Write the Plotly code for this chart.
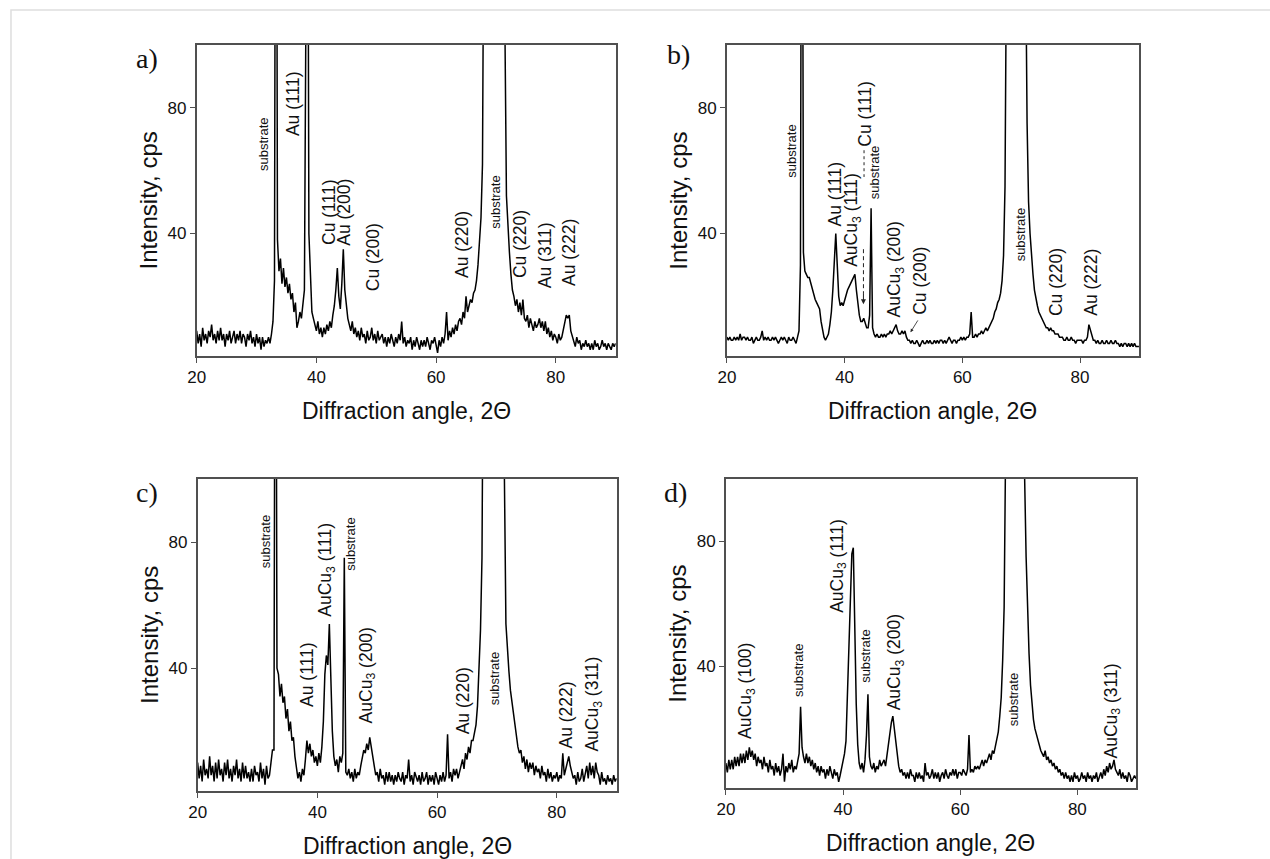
import numpy as np
import plotly.graph_objects as go

# Diffraction angle grid, 2-theta (deg), 0.25 deg step
two_theta = np.linspace(20, 90, 281)

# Measured intensity (cps); each row holds 20.00, 20.25, 20.50, 20.75 ... of one degree
intensity_a = [
    9, 5, 8, 4,  10, 6, 8, 5,  9, 7, 11, 6,  8, 5, 9, 6,  10, 6, 8, 4,      # 20-24
    8, 6, 9, 5,  7, 9, 5, 8,  6, 9, 5, 8,  7, 4, 8, 6,  9, 5, 7, 4,        # 25-29
    8, 5, 7, 3,  7, 4, 6, 5,  7, 5, 8, 12,  25, 260, 38, 28,  32, 24, 29, 23,  # 30-34
    26, 21, 24, 19,  21, 15, 18, 10,  12, 15, 13, 19,  22, 110, 220, 40,  24, 15, 13, 11,  # 35-39
    9, 12, 8, 10,  7, 10, 8, 11,  9, 12, 10, 14,  17, 22, 29, 20,  16, 24, 35, 22,  # 40-44
    17, 13, 11, 9,  12, 8, 10, 7,  9, 6, 10, 7,  8, 5, 9, 6,  7, 10, 6, 8,  # 45-49
    5, 9, 6, 7,  8, 5, 7, 4,  7, 5, 8, 6,  4, 7, 5, 8,  6, 12, 5, 7,       # 50-54
    4, 6, 5, 7,  3, 6, 4, 7,  5, 3, 6, 4,  6, 4, 7, 5,  3, 6, 5, 7,        # 55-59
    5, 2, 6, 4,  7, 5, 8, 15,  6, 9, 7, 10,  8, 11, 9, 12,  13, 11, 15, 13,  # 60-64
    20, 15, 17, 19,  18, 21, 22, 25,  30, 36, 45, 62,  110, 250, 600, 900,  1000, 1000, 1000, 1000,  # 65-69
    1000, 1000, 900, 600,  400, 200, 105, 52,  42, 34, 27, 22,  20, 17, 19, 15,  18, 14, 19, 13,  # 70-74
    12, 14, 10, 13,  11, 9, 12, 10,  11, 13, 10, 12,  9, 12, 8, 10,  7, 9, 6, 8,  # 75-79
    7, 5, 8, 6,  7, 9, 12, 14,  13, 14, 9, 7,  6, 4, 7, 5,  6, 3, 5, 4,    # 80-84
    6, 4, 5, 3,  5, 3, 6, 4,  5, 3, 4, 6,  4, 5, 3, 5,  4, 3, 5, 4,        # 85-89
    5,                                                                      # 90
]

intensity_b = [
    7, 6, 7, 6,  6, 7, 6, 7,  6, 8, 6, 7,  7, 6, 7, 6,  6, 7, 5, 6,        # 20-24
    7, 6, 6, 7,  9, 6, 7, 6,  7, 6, 6, 7,  6, 7, 6, 5,  6, 7, 6, 7,        # 25-29
    6, 5, 7, 6,  6, 7, 6, 5,  7, 9, 30, 250,  34, 28, 27, 26,  26, 24, 22, 20,  # 30-34
    19, 18, 17, 16,  12, 9, 7, 6,  7, 8, 11, 15,  22, 33, 40, 30,  20, 17, 18, 17,  # 35-39
    19, 20, 22, 23,  24, 25, 26, 27,  22, 17, 14, 12,  12, 13, 11, 10,  10, 14, 48, 10,  # 40-44
    8, 7, 8, 7,  7, 8, 7, 8,  7, 8, 8, 9,  8, 9, 10, 11,  9, 8, 8, 9,      # 45-49
    8, 9, 7, 6,  6, 5, 6, 5,  5, 6, 5, 4,  5, 6, 5, 5,  6, 5, 6, 5,        # 50-54
    5, 6, 5, 6,  5, 6, 6, 5,  6, 5, 6, 7,  6, 5, 6, 6,  5, 6, 6, 7,        # 55-59
    6, 7, 6, 7,  7, 8, 15, 7,  7, 8, 7, 8,  8, 9, 8, 9,  10, 9, 10, 11,    # 60-64
    12, 13, 15, 16,  18, 19, 21, 25,  33, 55, 130, 300,  1000, 1000, 1000, 1000,  1000, 1000, 1000, 1000,  # 65-69
    1000, 700, 350, 130,  75, 50, 40, 32,  27, 22, 19, 17,  15, 14, 13, 12,  11, 10, 10, 9,  # 70-74
    10, 9, 9, 8,  8, 8, 7, 7,  7, 6, 6, 7,  6, 6, 7, 6,  6, 5, 6, 6,       # 75-79
    6, 6, 5, 6,  6, 7, 11, 9,  7, 6, 6, 5,  6, 5, 5, 6,  5, 5, 6, 5,       # 80-84
    5, 6, 5, 5,  6, 5, 5, 4,  5, 4, 5, 5,  4, 5, 4, 5,  4, 5, 4, 4,        # 85-89
    4,                                                                      # 90
]

intensity_c = [
    10, 5, 9, 4,  11, 6, 8, 5,  12, 6, 9, 4,  10, 5, 11, 6,  8, 4, 10, 6,  # 20-24
    11, 5, 8, 4,  9, 6, 11, 5,  8, 4, 10, 5,  9, 5, 7, 4,  8, 4, 9, 6,     # 25-29
    7, 4, 10, 5,  8, 3, 9, 5,  6, 11, 14, 14,  250, 40, 38, 31,  35, 29, 31, 24,  # 30-34
    27, 20, 23, 17,  18, 12, 9, 5,  7, 4, 8, 6,  11, 17, 13, 16,  12, 14, 10, 12,  # 35-39
    9, 13, 10, 15,  23, 38, 44, 41,  54, 37, 20, 12,  9, 11, 7, 12,  10, 13, 75, 7,  # 40-44
    6, 8, 5, 7,  4, 8, 5, 7,  6, 9, 12, 14,  13, 16, 14, 18,  15, 11, 9, 6,  # 45-49
    7, 4, 8, 5,  6, 3, 7, 4,  7, 4, 6, 3,  6, 4, 7, 5,  4, 7, 3, 6,        # 50-54
    5, 11, 4, 6,  3, 7, 5, 4,  6, 3, 7, 4,  5, 7, 3, 6,  4, 6, 3, 7,       # 55-59
    5, 3, 6, 4,  7, 4, 6, 19,  5, 7, 4, 8,  6, 8, 5, 7,  9, 11, 8, 13,     # 60-64
    11, 15, 13, 17,  17, 19, 22, 28,  39, 52, 75, 150,  400, 1000, 1000, 1000,  1000, 1000, 1000, 1000,  # 65-69
    1000, 1000, 800, 400,  200, 100, 54, 45,  39, 33, 29, 25,  21, 18, 15, 13,  14, 10, 12, 8,  # 70-74
    11, 7, 10, 8,  10, 6, 9, 7,  8, 5, 9, 6,  7, 4, 8, 5,  7, 4, 6, 5,     # 75-79
    7, 4, 6, 5,  13, 6, 8, 11,  12, 9, 7, 5,  6, 3, 7, 4,  5, 8, 4, 7,     # 80-84
    9, 5, 10, 6,  9, 5, 10, 7,  6, 3, 7, 4,  5, 3, 6, 4,  5, 3, 6, 4,      # 85-89
    5,                                                                      # 90
]

intensity_d = [
    9, 6, 10, 7,  10, 7, 11, 8,  11, 8, 12, 9,  12, 9, 13, 10,  14, 11, 13, 10,  # 20-24
    12, 8, 11, 9,  10, 7, 11, 8,  9, 6, 10, 7,  8, 5, 9, 6,  8, 5, 7, 12,  # 25-29
    3, 8, 6, 9,  7, 10, 6, 8,  7, 9, 12, 27,  14, 11, 9, 12,  9, 11, 8, 10,  # 30-34
    7, 9, 6, 8,  5, 8, 6, 7,  4, 7, 5, 8,  6, 4, 7, 5,  6, 3, 5, 7,        # 35-39
    9, 12, 16, 30,  49, 62, 76, 78,  50, 28, 15, 9,  7, 9, 6, 10,  18, 31, 11, 8,  # 40-44
    7, 9, 6, 8,  7, 10, 8, 9,  10, 8, 12, 15,  18, 22, 24, 20,  14, 10, 8, 6,  # 45-49
    7, 5, 6, 4,  6, 4, 7, 5,  5, 3, 6, 4,  6, 4, 5, 3,  9, 5, 6, 4,        # 50-54
    5, 7, 4, 6,  4, 6, 3, 5,  6, 4, 7, 5,  4, 6, 5, 7,  5, 7, 4, 6,        # 55-59
    6, 5, 7, 6,  5, 7, 18, 6,  7, 6, 8, 7,  8, 7, 9, 10,  8, 10, 9, 11,    # 60-64
    12, 10, 13, 12,  14, 16, 19, 24,  30, 42, 59, 110,  1000, 1000, 1000, 1000,  1000, 1000, 1000, 1000,  # 65-69
    1000, 900, 500, 200,  100, 75, 58, 44,  34, 28, 23, 20,  18, 16, 14, 13,  12, 11, 13, 10,  # 70-74
    11, 9, 10, 8,  9, 7, 8, 6,  7, 5, 6, 4,  6, 4, 5, 3,  5, 3, 6, 4,      # 75-79
    5, 3, 4, 6,  4, 5, 3, 6,  4, 5, 3, 5,  4, 6, 3, 5,  6, 4, 7, 5,        # 80-84
    8, 6, 9, 7,  8, 10, 7, 6,  5, 7, 4, 6,  4, 5, 3, 6,  5, 3, 4, 5,       # 85-89
    4,                                                                      # 90
]

# Peak assignments: (text, 2-theta, height, small font)
labels_a = [
    ("substrate", 31.2, 68.4, True), ("Au (111)", 36.2, 81.4, False),
    ("Cu (111)", 42.2, 46.7, False), ("Au (200)", 44.6, 46.9, False),
    ("Cu (200)", 49.6, 32.4, False), ("Au (220)", 64.3, 36.6, False),
    ("substrate", 69.8, 50.0, True), ("Cu (220)", 74.0, 36.6, False),
    ("Au (311)", 78.2, 33.1, False), ("Au (222)", 82.3, 34.0, False),
]
labels_b = [
    ("substrate", 31.0, 66.2, True), ("Au (111)", 38.4, 52.5, False),
    ("AuCu<sub>3</sub> (111)", 41.4, 44.3, False), ("Cu (111)", 43.4, 78.0, False),
    ("substrate", 45.1, 59.4, True), ("AuCu<sub>3</sub> (200)", 48.7, 28.5, False),
    ("Cu (200)", 52.9, 24.8, False), ("substrate", 69.9, 39.6, True),
    ("Cu (220)", 76.0, 24.4, False), ("Au (222)", 81.9, 24.4, False),
]
labels_c = [
    ("substrate", 31.4, 80.2, True), ("Au (111)", 38.3, 37.9, False),
    ("AuCu<sub>3</sub> (111)", 41.6, 71.2, False), ("substrate", 45.5, 79.2, True),
    ("AuCu<sub>3</sub> (200)", 48.3, 37.7, False), ("Au (220)", 64.3, 29.7, False),
    ("substrate", 69.6, 36.6, True), ("Au (222)", 81.5, 25.2, False),
    ("AuCu<sub>3</sub> (311)", 86.2, 28.7, False),
]
labels_d = [
    ("AuCu<sub>3</sub> (100)", 23.6, 32.1, False), ("substrate", 32.5, 38.5, True),
    ("AuCu<sub>3</sub> (111)", 39.1, 72.1, False), ("substrate", 43.9, 43.3, True),
    ("AuCu<sub>3</sub> (200)", 49.0, 41.2, False), ("substrate", 69.0, 29.4, True),
    ("AuCu<sub>3</sub> (311)", 86.0, 25.7, False),
]

x_ticks = [20, 40, 60, 80]
y_ticks = [40, 80]
panel_letters = ["a)", "b)", "c)", "d)"]

W, H = 1270, 859
DX = -7  # horizontal offset of the whole layout, px
SANS = "Liberation Sans, Arial, sans-serif"
SERIF = "Liberation Serif, Times New Roman, serif"
AXIS_COLOR = "#505050"


def fx(p):
    return (p + DX) / W


def fy(p):
    return 1 - p / H


def paper_text(px, py, text, font, angle=0):
    return dict(xref="paper", yref="paper", x=fx(px), y=fy(py), text=text,
                textangle=angle, showarrow=False, xanchor="center", yanchor="middle",
                font=font)


# Plot boxes in pixels: left, right, top, bottom
boxes = [(196, 618, 45, 356), (730, 1145, 45, 356), (197, 619, 479, 791), (729, 1142, 479, 788)]
letter_pos = [(146, 58), (681, 55), (146, 492), (678, 492)]
series = [intensity_a, intensity_b, intensity_c, intensity_d]
label_sets = [labels_a, labels_b, labels_c, labels_d]

for s in series:
    assert len(s) == len(two_theta)

fig = go.Figure()
annotations = []
layout = {}

for i, (vals, box, labels) in enumerate(zip(series, boxes, label_sets)):
    n = "" if i == 0 else str(i + 1)
    xa, ya = "x" + n, "y" + n
    left, right, top, bottom = box
    fig.add_trace(go.Scatter(
        x=two_theta, y=vals, mode="lines", xaxis=xa, yaxis=ya,
        line=dict(color="black", width=1.5), showlegend=False, hoverinfo="skip",
    ))
    common = dict(
        showline=True, mirror=True, linecolor=AXIS_COLOR, linewidth=1.5,
        ticks="outside", ticklen=5, tickwidth=1.2, tickcolor=AXIS_COLOR,
        showgrid=False, zeroline=False,
        tickfont=dict(family=SANS, size=17, color="#111"),
    )
    layout["xaxis" + n] = dict(common, domain=[fx(left), fx(right)], anchor=ya,
                               range=[20, 90], tickvals=x_ticks)
    layout["yaxis" + n] = dict(common, domain=[fy(bottom), fy(top)], anchor=xa,
                               range=[1, 100], tickvals=y_ticks)

    # axis titles and panel letter
    annotations.append(paper_text(left - 49, (top + bottom) / 2, "Intensity, cps",
                                  dict(family=SANS, size=24, color="#111"), angle=-90))
    annotations.append(paper_text((left + right) / 2, bottom + 55, "Diffraction angle, 2\u0398",
                                  dict(family=SANS, size=23, color="#111")))
    lx, ly = letter_pos[i]
    annotations.append(paper_text(lx, ly, panel_letters[i],
                                  dict(family=SERIF, size=28, color="#111")))

    # peak labels
    for text, x, y, small in labels:
        annotations.append(dict(
            xref=xa, yref=ya, x=x, y=y, text=text, textangle=-90, showarrow=False,
            xanchor="center", yanchor="middle",
            font=dict(family=SANS, size=13 if small else 17.5, color="#111"),
        ))

# Pointers in panel b: Cu (111) leader + dashed arrow, Cu (200) arrow
shapes = [
    dict(type="line", xref="x2", yref="y2", x0=43.3, x1=43.3, y0=66.5, y1=58,
         line=dict(color="#222", width=1, dash="3px,3px")),
    dict(type="line", xref="x2", yref="y2", x0=43.2, x1=43.2, y0=35, y1=21,
         line=dict(color="#222", width=1, dash="4px,3px")),
    # light frame around the figure
    dict(type="rect", xref="paper", yref="paper", x0=fx(9), x1=1.05, y0=-0.05, y1=fy(10),
         line=dict(color="#dedede", width=1.5)),
]
annotations.append(dict(
    xref="x2", yref="y2", x=43.2, y=17.5, ax=43.2, ay=21.5, axref="x2", ayref="y2",
    text="", showarrow=True, arrowhead=2, arrowsize=1, arrowwidth=1, arrowcolor="#222",
))
annotations.append(dict(
    xref="x2", yref="y2", x=51.2, y=8.6, ax=52.6, ay=12.8, axref="x2", ayref="y2",
    text="", showarrow=True, arrowhead=2, arrowsize=0.8, arrowwidth=0.8, arrowcolor="#222",
))

fig.update_layout(
    width=W, height=H, margin=dict(l=0, r=0, t=0, b=0),
    paper_bgcolor="white", plot_bgcolor="white",
    annotations=annotations, shapes=shapes, **layout,
)

fig.write_html("out.html")
